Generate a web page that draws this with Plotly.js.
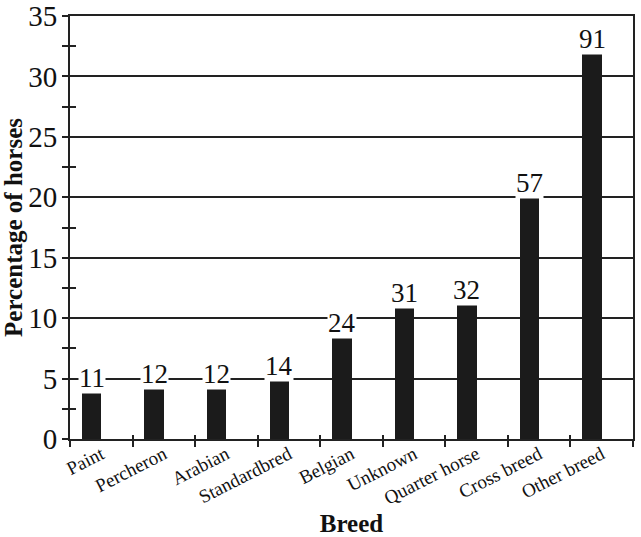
<!DOCTYPE html>
<html>
<head>
<meta charset="utf-8">
<script src="https://cdn.plot.ly/plotly-3.0.1.min.js"></script>
<style>html,body{margin:0;padding:0;background:#fff;}#chart{width:641px;height:537px;}</style>
</head>
<body>
<div id="chart"></div>
<script>
const breeds = ["Paint","Percheron","Arabian","Standardbred","Belgian","Unknown","Quarter horse","Cross breed","Other breed"];
const percentages = [3.85, 4.2, 4.2, 4.9, 8.45, 10.9, 11.2, 20.0, 31.9];
const counts = ["11","12","12","14","24","31","32","57","91"];
const yTicks = [0,5,10,15,20,25,30,35];

const FONT = "'Liberation Serif', 'Times New Roman', Times, serif";
const LINE = "#222";

const trace = {
  type: "bar",
  x: breeds,
  y: percentages,
  width: 0.31,
  offset: -0.31,
  marker: {color: "#1b1b1b", line: {width: 0}},
  hoverinfo: "skip",
  showlegend: false
};
const dummy = {
  type: "scatter", mode: "none",
  x: breeds, y: percentages, xaxis: "x2", yaxis: "y2",
  hoverinfo: "skip", showlegend: false
};

const annotations = breeds.map((b, i) => ({
  x: b, y: percentages[i], xref: "x", yref: "y",
  text: counts[i], showarrow: false,
  xanchor: "center", yanchor: "bottom",
  xshift: -9.7, yshift: -2,
  bgcolor: "#ffffff", borderpad: 0,
  font: {family: FONT, size: 27, color: "#111"}
}));

const layout = {
  width: 641, height: 537,
  margin: {l: 70, r: 8, t: 16, b: 98},
  paper_bgcolor: "#fff", plot_bgcolor: "#fff",
  font: {family: FONT, color: "#111"},
  bargap: 0,
  xaxis: {
    type: "category",
    tickson: "boundaries",
    ticks: "outside", ticklen: 6, tickwidth: 2, tickcolor: LINE,
    ticklabelstandoff: -5,
    showline: true, linecolor: LINE, linewidth: 2, mirror: true,
    showgrid: false,
    tickangle: -27,
    tickfont: {family: FONT, size: 19, color: "#111"},
    title: {text: "<b>Breed</b>", font: {family: FONT, size: 25, color: "#111"}, standoff: 18},
    range: [-0.5, 8.5]
  },
  xaxis2: {
    type: "category", overlaying: "x", matches: "x",
    tickson: "boundaries", ticks: "inside", ticklen: 4, tickwidth: 2, tickcolor: LINE,
    showticklabels: false, showgrid: false, showline: false, zeroline: false
  },
  yaxis: {
    range: [0, 35],
    tickvals: yTicks,
    ticks: "outside", ticklen: 5, tickwidth: 2, tickcolor: LINE,
    minor: {dtick: 2.5, ticks: "outside", ticklen: 6, tickwidth: 2, tickcolor: LINE, showgrid: false},
    showline: true, linecolor: LINE, linewidth: 2, mirror: true,
    showgrid: true, gridcolor: LINE, gridwidth: 2,
    zeroline: false,
    tickfont: {family: FONT, size: 29, color: "#111"},
    title: {text: "<b>Percentage of horses</b>", font: {family: FONT, size: 25, color: "#111"}, standoff: 8}
  },
  yaxis2: {
    overlaying: "y", matches: "y", range: [0, 35],
    dtick: 2.5, ticks: "inside", ticklen: 6, tickwidth: 2, tickcolor: LINE,
    showticklabels: false, showgrid: false, showline: false, zeroline: false
  },
  annotations: annotations
};

Plotly.newPlot("chart", [trace, dummy], layout, {displayModeBar: false, staticPlot: true});
</script>
</body>
</html>
